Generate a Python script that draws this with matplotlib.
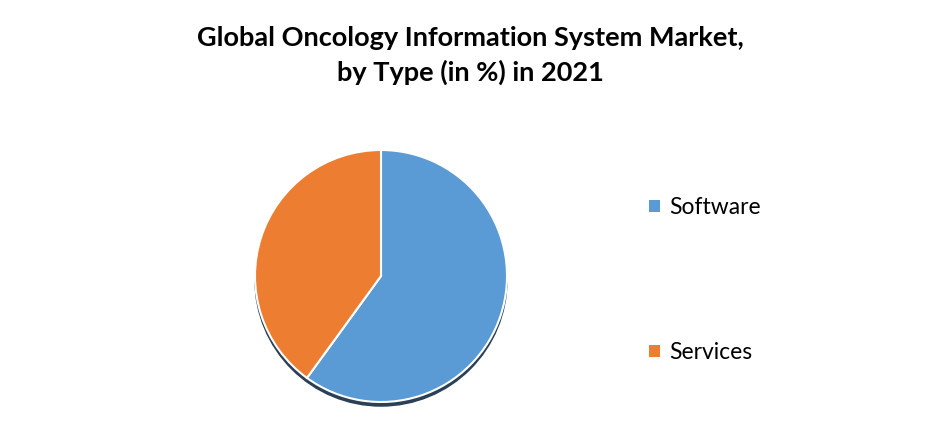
import matplotlib
matplotlib.use("Agg")
import matplotlib.pyplot as plt
from matplotlib.patches import Circle, Patch

# data
labels = ['Software', 'Services']
shares = [60, 40]
colors = ['#5B9BD5', '#ED7D31']

plt.rcParams['font.family'] = ['Lato', 'DejaVu Sans']

fig = plt.figure(figsize=(9.4, 4.47), dpi=100)

# pie axes, square in pixels
W, H = 940, 447
cx, cy, half = 381, 276, 135
ax = fig.add_axes([(cx - half) / W, (H - cy - half) / H, 2 * half / W, 2 * half / H])

r = 126 / half
# thin shadow under the pie
ax.add_patch(Circle((0.0, -0.03), r, color='#2b3f55', zorder=0))
wedges, _ = ax.pie(shares, colors=colors, radius=r, startangle=90, counterclock=False,
                   wedgeprops=dict(edgecolor='white', linewidth=1.5))
ax.set_xlim(-1, 1)
ax.set_ylim(-1, 1)
ax.set_aspect('equal')
ax.axis('off')

# title
fig.text(0.5, 1 - 38 / H, 'Global Oncology Information System Market,',
         ha='center', va='center', fontsize=19.5, fontweight='bold')
fig.text(0.5, 1 - 72 / H, 'by Type (in %) in 2021',
         ha='center', va='center', fontsize=19.5, fontweight='bold')

# legend
handles = [Patch(facecolor=c, edgecolor='none') for c in colors]
fig.legend(handles, labels, loc='upper left', bbox_to_anchor=(638 / W, 1 - 186 / H),
           frameon=False, fontsize=16.5, handlelength=0.45, handleheight=0.45,
           handletextpad=0.4, labelspacing=5.4, borderpad=0)

fig.savefig('out.png', dpi=100)
